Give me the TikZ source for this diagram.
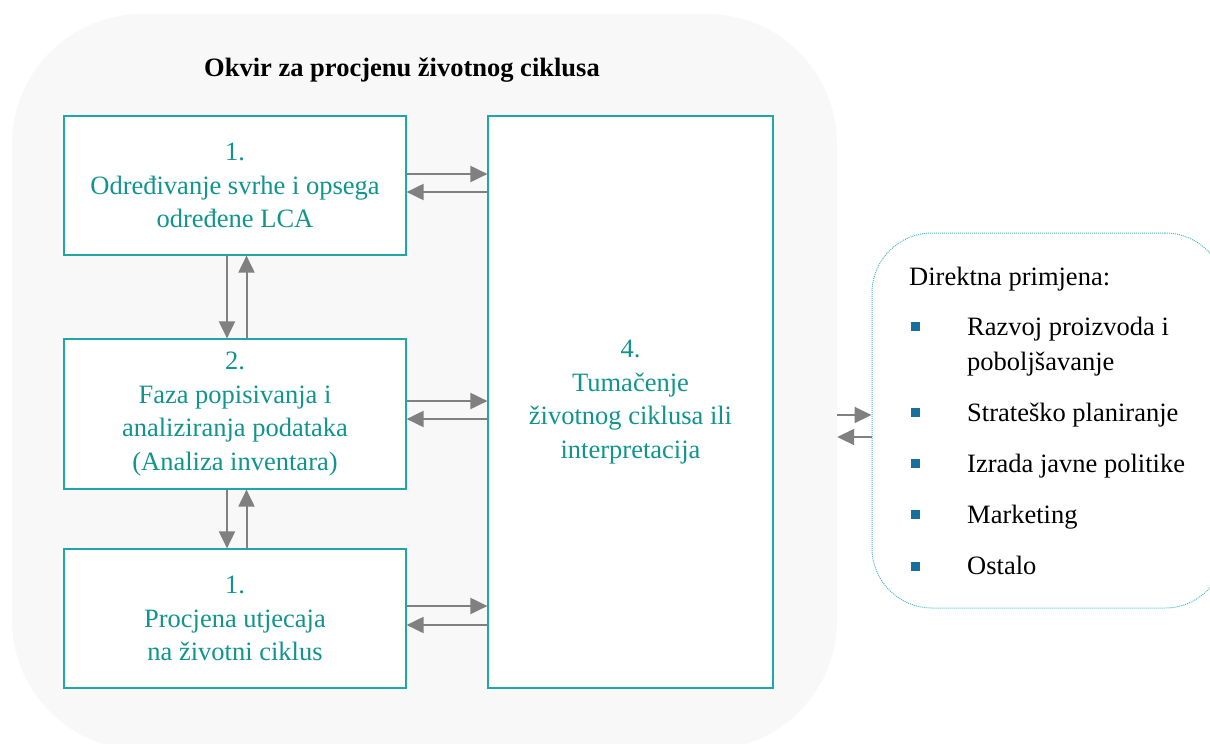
\documentclass[tikz,border=0pt]{standalone}
\usepackage{fontspec}
\setmainfont{Liberation Serif}
\usetikzlibrary{arrows.meta,calc}
\definecolor{tealtxt}{RGB}{18,148,142}
\definecolor{tealbd}{RGB}{32,166,166}
\definecolor{bggray}{RGB}{248,248,248}
\definecolor{arrgray}{RGB}{128,128,128}
\definecolor{dotteal}{RGB}{80,185,190}
\definecolor{bulblue}{RGB}{25,110,160}
\begin{document}
\begin{tikzpicture}[x=1pt,y=-1pt,
  stagebox/.style={draw=tealbd, line width=1.2pt, fill=white, text=tealtxt, align=center,
    font=\fontsize{26.5}{33.5}\selectfont, inner sep=0pt},
  arr/.style={draw=arrgray, line width=2pt, -{Triangle[length=17pt 0 0,width=16pt 0 0]}},
  listtxt/.style={anchor=base west, inner sep=0pt, font=\fontsize{26.5}{31}\selectfont},
  bul/.style={fill=bulblue, minimum size=9pt, inner sep=0pt}
]
\useasboundingbox (0,0) rectangle (1210,744);
% background panel
\node[fill=bggray, rounded corners=130pt, minimum width=825pt, minimum height=736pt, inner sep=0pt] (bg) at (424.5,382) {};
% title
\node[font=\bfseries\fontsize{26.5}{31}\selectfont, inner sep=0pt] (title) at (402,70) {Okvir za procjenu životnog ciklusa};
% stages
\node[stagebox, minimum width=342pt, minimum height=139pt] (b1) at (235,185.5)
  {1.\\Određivanje svrhe i opsega\\određene LCA};
\node[stagebox, minimum width=342pt, minimum height=150pt] (b2) at (235,414)
  {2.\\Faza popisivanja i\\analiziranja podataka\\(Analiza inventara)};
\node[stagebox, minimum width=342pt, minimum height=139pt] (b3) at (235,618.5)
  {1.\\Procjena utjecaja\\na životni ciklus};
\node[stagebox, minimum width=285pt, minimum height=572pt] (b4) at (630.5,402)
  {4.\\Tumačenje\\životnog ciklusa ili\\interpretacija};
% horizontal arrows
\draw[arr] ([yshift=11.5pt]b1.east) -- ([yshift=11.5pt]b1.east -| b4.west);
\draw[arr] ([yshift=-6.5pt]b1.east -| b4.west) -- ([yshift=-6.5pt]b1.east);
\draw[arr] ([yshift=13pt]b2.east) -- ([yshift=13pt]b2.east -| b4.west);
\draw[arr] ([yshift=-5pt]b2.east -| b4.west) -- ([yshift=-5pt]b2.east);
\draw[arr] ([yshift=12.5pt]b3.east) -- ([yshift=12.5pt]b3.east -| b4.west);
\draw[arr] ([yshift=-6.5pt]b3.east -| b4.west) -- ([yshift=-6.5pt]b3.east);
% vertical arrows
\draw[arr] ([xshift=-8pt]b1.south) -- ([xshift=-8pt]b1.south |- b2.north);
\draw[arr] ([xshift=11.5pt]b1.south |- b2.north) -- ([xshift=11.5pt]b1.south);
\draw[arr] ([xshift=-8pt]b2.south) -- ([xshift=-8pt]b2.south |- b3.north);
\draw[arr] ([xshift=11.5pt]b2.south |- b3.north) -- ([xshift=11.5pt]b2.south);
% right box
\node[draw=dotteal, densely dotted, line width=1pt, rounded corners=60pt, minimum width=353pt, minimum height=375pt, inner sep=0pt] (rb) at (1048.5,420.5) {};
\draw[arr] ([yshift=5.5pt]rb.west -| bg.east) -- ([yshift=5.5pt]rb.west);
\draw[arr] ([yshift=-16.5pt]rb.west) -- ([yshift=-16.5pt]rb.west -| bg.east);
% list
\node[listtxt] (hd) at (909,285) {Direktna primjena:};
\node[bul] (p1) at (915,326) {};
\node[listtxt] (l1) at (967,335) {Razvoj proizvoda i};
\node[listtxt] (l1b) at (967,370) {poboljšavanje};
\node[bul] (p2) at (915,412) {};
\node[listtxt] (l2) at (967,421) {Strateško planiranje};
\node[bul] (p3) at (915,463) {};
\node[listtxt] (l3) at (967,472) {Izrada javne politike};
\node[bul] (p4) at (915,514) {};
\node[listtxt] (l4) at (967,523) {Marketing};
\node[bul] (p5) at (915,566) {};
\node[listtxt] (l5) at (967,574) {Ostalo};
\end{tikzpicture}
\end{document}
